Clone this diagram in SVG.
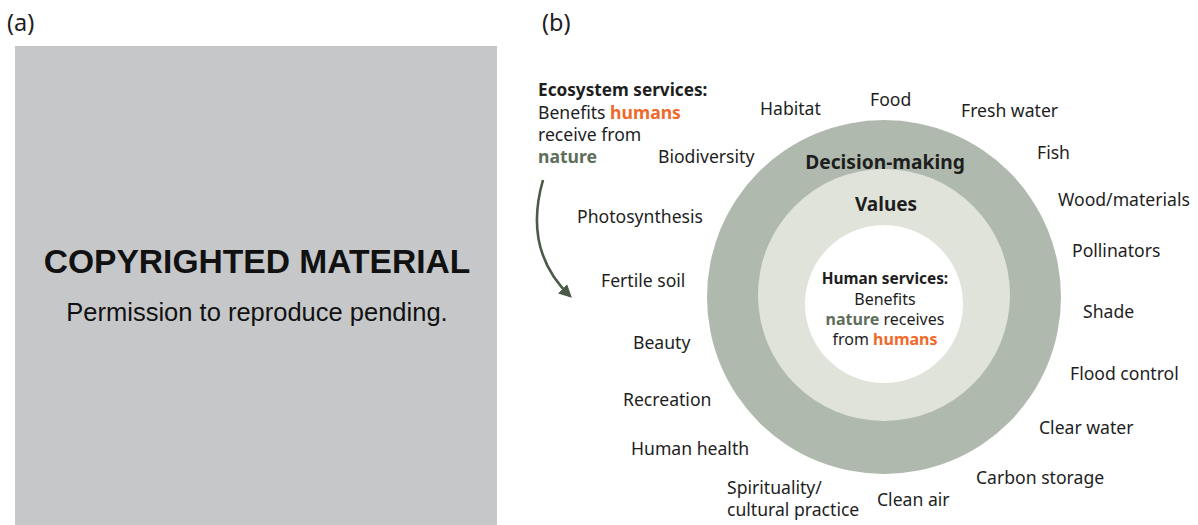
<svg xmlns="http://www.w3.org/2000/svg" width="1198" height="525" viewBox="0 0 1198 525">
<style>
text{font-family:"Noto Sans","Open Sans","DejaVu Sans",sans-serif;fill:#1e1e1e;}
.lbl{font-size:17.6px;}
.b{font-weight:bold;}
.ctr{text-anchor:middle;}
.or{fill:#ef6a2a;font-weight:bold;}
.gr{fill:#5e6e5b;font-weight:bold;}
.ph{font-family:"Liberation Sans",Arial,sans-serif;fill:#111;text-anchor:middle;}
</style>
<defs>
<marker id="ah" viewBox="0 0 10 10" refX="8" refY="5" markerWidth="5" markerHeight="5" orient="auto" markerUnits="strokeWidth">
<path d="M0,0 L10,5 L0,10 z" fill="#4b5b48"/>
</marker>
</defs>
<rect width="1198" height="525" fill="#fff"/>
<g id="panel-a">
<text x="7" y="31" font-size="23.5">(a)</text>
<rect x="15" y="46" width="482" height="479" fill="#c6c7c9"/>
<text class="ph" x="257" y="273" font-size="33.6" font-weight="bold">COPYRIGHTED MATERIAL</text>
<text class="ph" x="257" y="321" font-size="25.5">Permission to reproduce pending.</text>
</g>
<text x="542" y="31" font-size="23.5">(b)</text>
<g id="rings">
<circle id="decision-making" cx="884" cy="297" r="177" fill="#b0b9ad"/>
<circle id="values" cx="884" cy="295" r="126" fill="#dfe3d9"/>
<circle id="human-services" cx="884" cy="304" r="79" fill="#fff"/>
</g>
<g id="ring-labels">
<text class="b ctr" x="885" y="169" font-size="19.2">Decision-making</text>
<text class="b ctr" x="886" y="211" font-size="19">Values</text>
<text class="b ctr" x="885" y="284" font-size="15.4">Human services:</text>
<text class="ctr" x="885" y="305" font-size="16">Benefits</text>
<text class="ctr" x="885" y="325" font-size="16"><tspan class="gr">nature</tspan> receives</text>
<text class="ctr" x="885" y="345" font-size="16">from <tspan class="or">humans</tspan></text>
</g>
<g id="eco-title" class="lbl">
<text class="b" x="538" y="96" font-size="17.2">Ecosystem services:</text>
<text x="538" y="119">Benefits <tspan class="or">humans</tspan></text>
<text x="538" y="141">receive from</text>
<text x="538" y="163"><tspan class="gr">nature</tspan></text>
</g>
<g id="connectors">
<path d="M543,180 C530,225 538,265 570,296" fill="none" stroke="#4b5b48" stroke-width="2.6" marker-end="url(#ah)"/>
</g>
<g id="services" class="lbl">
<text id="habitat" x="760" y="115">Habitat</text>
<text id="food" x="870" y="106">Food</text>
<text id="fresh-water" x="961" y="117">Fresh water</text>
<text id="fish" x="1037" y="159">Fish</text>
<text id="wood" x="1058" y="206">Wood/materials</text>
<text id="pollinators" x="1072" y="257">Pollinators</text>
<text id="shade" x="1083" y="318">Shade</text>
<text id="flood" x="1070" y="380">Flood control</text>
<text id="clear-water" x="1039" y="434">Clear water</text>
<text id="carbon" x="976" y="484">Carbon storage</text>
<text id="clean-air" x="877" y="506">Clean air</text>
<text id="spirit" x="727" y="494">Spirituality/</text>
<text id="cultural" x="727" y="516">cultural practice</text>
<text id="health" x="631" y="455">Human health</text>
<text id="recreation" x="623" y="406">Recreation</text>
<text id="beauty" x="633" y="349">Beauty</text>
<text id="soil" x="601" y="287">Fertile soil</text>
<text id="photo" x="577" y="223">Photosynthesis</text>
<text id="biodiversity" x="658" y="163">Biodiversity</text>
</g>
</svg>
